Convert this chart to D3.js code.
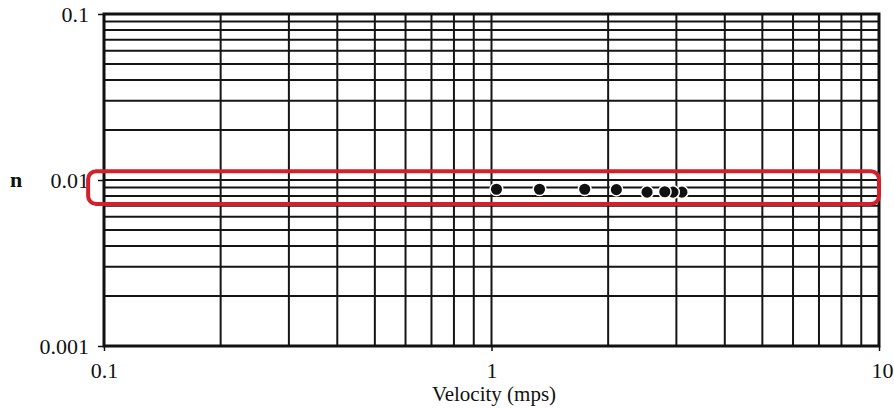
<!DOCTYPE html>
<html>
<head>
<meta charset="utf-8">
<script src="https://cdn.jsdelivr.net/npm/d3@7"></script>
<style>
  html, body { margin: 0; padding: 0; background: #fff; }
  svg { display: block; }
  text { font-family: "Liberation Serif", "Times New Roman", serif; fill: #111; }
</style>
</head>
<body>
<svg id="chart" width="894" height="408"></svg>
<script>
// Measured Manning's n against flow velocity
const velocity = [1.03, 1.33, 1.74, 2.10, 2.52, 2.80, 2.94, 3.10];
const manningN = [0.0088, 0.0088, 0.0088, 0.00875, 0.00845, 0.0085, 0.00845, 0.00845];

// Axis extents and labelled ticks
const xDomain = [0.1, 10];
const yDomain = [0.001, 0.1];
const xTickLabels = [0.1, 1, 10];
const yTickLabels = [0.001, 0.01, 0.1];

// Highlighted band around n = 0.01 (data units)
const bandVelocity = [0.091, 10];
const bandN = [0.00717, 0.0113];

const svg = d3.select("#chart");
const plotLeft = 104, plotRight = 879, plotTop = 14, plotBottom = 346;
const serif = '"Liberation Serif", "Times New Roman", serif';

const x = d3.scaleLog().domain(xDomain).range([plotLeft, plotRight]);
const y = d3.scaleLog().domain(yDomain).range([plotBottom, plotTop]);

const grid = svg.append("g").attr("stroke", "#151515").attr("stroke-width", 2);

// vertical grid lines at every 1-9 multiple of each decade
grid.selectAll("line.v").data(x.ticks()).join("line")
  .attr("class", "v")
  .attr("x1", d => x(d)).attr("x2", d => x(d))
  .attr("y1", plotTop).attr("y2", plotBottom);

// horizontal grid lines
grid.selectAll("line.h").data(y.ticks()).join("line")
  .attr("class", "h")
  .attr("y1", d => y(d)).attr("y2", d => y(d))
  .attr("x1", plotLeft).attr("x2", plotRight);

// frame
svg.append("rect")
  .attr("x", plotLeft).attr("y", plotTop)
  .attr("width", plotRight - plotLeft).attr("height", plotBottom - plotTop)
  .attr("fill", "none").attr("stroke", "#111").attr("stroke-width", 3);

// axes
const fmt = d => String(d);
const xAxis = d3.axisBottom(x).tickValues(xTickLabels).tickFormat(fmt)
  .tickSize(5).tickPadding(11);
const yAxis = d3.axisLeft(y).tickValues(yTickLabels).tickFormat(fmt)
  .tickSize(6).tickPadding(9);

const gx = svg.append("g").attr("transform", `translate(0,${plotBottom})`).call(xAxis);
const gy = svg.append("g").attr("transform", `translate(${plotLeft},0)`).call(yAxis);
[gx, gy].forEach(g => {
  g.attr("font-family", serif);
  g.select(".domain").remove();
  g.selectAll(".tick line").attr("stroke", "#111").attr("stroke-width", 1.5);
  g.selectAll(".tick text")
    .attr("fill", "#111")
    .style("font-family", serif)
    .style("font-size", "22px");
});
gx.selectAll(".tick text").attr("dx", d => d === 10 ? 3 : 0);

// axis titles
svg.append("text")
  .attr("x", 494).attr("y", 401)
  .attr("text-anchor", "middle")
  .style("font-size", "21px")
  .text("Velocity (mps)");

svg.append("text")
  .attr("x", 16).attr("y", y(0.01))
  .attr("dy", "0.32em")
  .attr("text-anchor", "middle")
  .style("font-size", "22px")
  .style("font-weight", "bold")
  .text("n");

// data points (drawn right to left so the left ones sit on top)
const pts = velocity.map((v, i) => ({ v, n: manningN[i] })).reverse();
svg.append("g").selectAll("circle").data(pts).join("circle")
  .attr("cx", d => x(d.v)).attr("cy", d => y(d.n))
  .attr("r", 6.3)
  .attr("fill", "#111")
  .attr("stroke", "#fff").attr("stroke-width", 1.5);

// red highlight band
svg.append("rect")
  .attr("x", x(bandVelocity[0])).attr("y", y(bandN[1]))
  .attr("width", x(bandVelocity[1]) - x(bandVelocity[0]))
  .attr("height", y(bandN[0]) - y(bandN[1]))
  .attr("rx", 8).attr("ry", 8)
  .attr("fill", "none")
  .attr("stroke", "#d3202a").attr("stroke-width", 4);
</script>
</body>
</html>
